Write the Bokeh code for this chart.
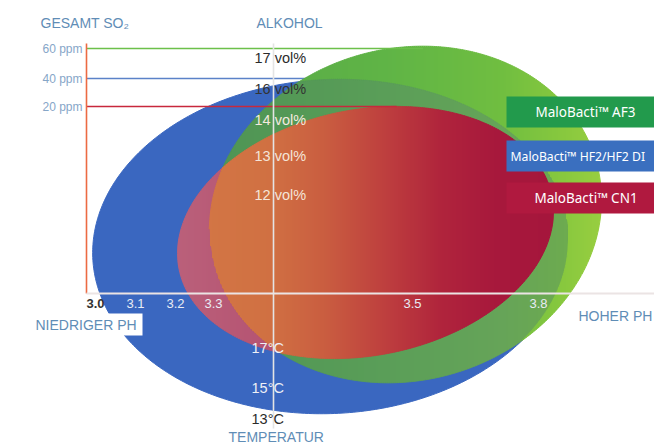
import numpy as np
from bokeh.plotting import figure
from bokeh.models import Range1d, ColumnDataSource
from bokeh.core.properties import value
from bokeh.embed import file_html
from bokeh.resources import INLINE

# ---------------- data ----------------
strains = ["MaloBacti\u2122 AF3", "MaloBacti\u2122 HF2/HF2 DI", "MaloBacti\u2122 CN1"]
strain_so2 = ["60 ppm", "40 ppm", "20 ppm"]
so2_ticks = ["60 ppm", "40 ppm", "20 ppm"]
alcohol_ticks = ["17 vol%", "16 vol%", "14 vol%", "13 vol%", "12 vol%"]
temp_ticks = ["17\u00b0C", "15\u00b0C", "13\u00b0C"]
ph_ticks = ["3.0", "3.1", "3.2", "3.3", "3.5", "3.8"]

# tolerance zones in schematic chart units (AF3, HF2, CN1)
zone_cx = [405, 330, 365]
zone_cy = [214, 246, 232]
zone_rx = [198, 238, 190]
zone_ry = [166, 167, 123]
zone_tilt = [15, 3, 11]

# ---------------- layout (schematic positions) ----------------
so2_pos = [48, 78, 106]
alc_pos = [57, 88, 119, 155, 194]
temp_pos = [347, 387, 418]
ph_pos = [95, 135, 175, 213, 412, 538]
SO2_X, ALC_X, PH_Y = 86, 273, 293
W, H = 654, 445

HEAD = "#5f8db6"
FONT = value("Liberation Sans")

p = figure(width=W, height=H, x_range=Range1d(0, W), y_range=Range1d(H, 0),
           output_backend="svg", toolbar_location=None, min_border=0,
           x_axis_location=None, y_axis_location=None)
p.grid.visible = False
p.outline_line_color = None
p.background_fill_color = "white"
p.border_fill_color = "white"


def ell_funcs(i):
    cx, cy, a, b = zone_cx[i], zone_cy[i], zone_rx[i], zone_ry[i]
    th = np.radians(zone_tilt[i])
    c, s = np.cos(th), np.sin(th)
    A = s * s / a ** 2 + c * c / b ** 2
    k = 2 * c * s * (1 / b ** 2 - 1 / a ** 2)
    Cq = c * c / a ** 2 + s * s / b ** 2
    Wd = np.sqrt(a * a * c * c + b * b * s * s)

    def yr(x):
        dx = np.asarray(x, dtype=float) - cx
        B = k * dx
        C = Cq * dx * dx - 1
        r = np.sqrt(np.clip(B * B - 4 * A * C, 0, None))
        return cy + (-B - r) / (2 * A), cy + (-B + r) / (2 * A)

    return yr, cx - Wd, cx + Wd


def outline(i, n=400):
    th = np.radians(zone_tilt[i])
    t = np.linspace(0, 2 * np.pi, n)
    x = zone_cx[i] + zone_rx[i] * np.cos(t) * np.cos(th) + zone_ry[i] * np.sin(t) * np.sin(th)
    y = zone_cy[i] - zone_rx[i] * np.cos(t) * np.sin(th) + zone_ry[i] * np.sin(t) * np.cos(th)
    return x, y


def interp(t, stops):
    ts = [s[0] for s in stops]
    return tuple(float(np.interp(t, ts, [s[1][ch] for s in stops])) for ch in range(3))


def hexc(rgb):
    return "#%02x%02x%02x" % tuple(int(round(min(255, max(0, v)))) for v in rgb)


F = [ell_funcs(i) for i in range(3)]


def layer_pieces(li, below, colorfn, step=2):
    yr, xl, xr = F[li]
    inner = np.arange(np.ceil(xl / step) * step, xr, step)
    inner = inner[(inner > xl + 0.3) & (inner < xr - 0.3)]
    edges = np.concatenate([[xl], inner, [xr]])
    xs_all, ys_all, cols = [], [], []
    for x0, x1 in zip(edges[:-1], edges[1:]):
        xx = np.linspace(x0, x1, 4)
        xm = (x0 + x1) / 2
        lo, hi = yr(xx)
        lom, him = yr(xm)
        bps = []
        for j in below:
            yrj, xlj, xrj = F[j]
            if xm <= xlj or xm >= xrj:
                continue
            ljm, hjm = yrj(xm)
            lj, hj = yrj(np.clip(xx, xlj, xrj))
            for cm, cc in ((ljm, lj), (hjm, hj)):
                if lom < cm < him:
                    bps.append((float(cm), cc))
        bps.sort(key=lambda q: q[0])
        curves = [(float(lom), lo)] + bps + [(float(him), hi)]
        t = (xm - xl) / (xr - xl)
        for k in range(len(curves) - 1):
            ya_m, ya = curves[k]
            yb_m, yb = curves[k + 1]
            ymid = (ya_m + yb_m) / 2
            cover = set()
            for j in below:
                yrj, xlj, xrj = F[j]
                if xlj < xm < xrj:
                    l2, h2 = yrj(xm)
                    if l2 < ymid < h2:
                        cover.add(j)
            col = hexc(colorfn(t, cover))
            ya_c = np.clip(ya, lo, hi)
            yb_c = np.clip(yb, lo, hi)
            xs_all.append(list(np.concatenate([xx, xx[::-1]])))
            ys_all.append(list(np.concatenate([ya_c, yb_c[::-1]])))
            cols.append(col)
    return ColumnDataSource(dict(xs=xs_all, ys=ys_all, c=cols))


BLUE = (58, 103, 192)
green_white = [(0.0, (88, 168, 72)), (0.45, (95, 180, 70)), (0.75, (112, 190, 64)),
               (0.9, (135, 200, 62)), (1.0, (152, 206, 64))]
green_blue = [(0.0, (78, 148, 84)), (0.45, (90, 158, 88)), (0.75, (102, 164, 88)),
              (0.9, (108, 170, 80)), (1.0, (118, 178, 74))]
red_green = [(0.0, (212, 120, 70)), (0.25, (208, 112, 66)), (0.4, (201, 92, 64)),
             (0.55, (190, 64, 62)), (0.7, (176, 36, 60)), (0.85, (167, 24, 60)),
             (1.0, (165, 22, 60))]
red_blue = [(0.0, (186, 96, 122)), (0.3, (180, 80, 112)), (0.6, (172, 50, 90)),
            (1.0, (165, 25, 65))]


def green_col(t, cover):
    return interp(t, green_blue if 1 in cover else green_white)


def red_col(t, cover):
    return interp(t, red_green if 0 in cover else red_blue)


line_cols = ["#6cc04a", "#5b82c8", "#c8283c"]


def so2_line(i):
    ox, oy = outline(i, 2000)
    k = int(np.argmin(oy))
    yy = so2_pos[so2_ticks.index(strain_so2[i])]
    p.segment(x0=[SO2_X], y0=[yy], x1=[ox[k]], y1=[yy], line_color=line_cols[i], line_width=1.6)


# blue zone (HF2)
bx, by = outline(1)
p.patch(list(bx), list(by), fill_color=hexc(BLUE), line_color=hexc(BLUE), line_width=1)
so2_line(1)

# green zone (AF3) over blue
gsrc = layer_pieces(0, [1], green_col)
p.patches("xs", "ys", source=gsrc, fill_color="c", line_color="c", line_width=1)

# red zone (CN1) over both
rsrc = layer_pieces(2, [1, 0], red_col)
p.patches("xs", "ys", source=rsrc, fill_color="c", line_color="c", line_width=1)

so2_line(0)
so2_line(2)

# axes
p.segment(x0=[SO2_X], y0=[43], x1=[SO2_X], y1=[PH_Y], line_color="#ec6a43", line_width=1.6)
p.segment(x0=[ALC_X], y0=[43], x1=[ALC_X], y1=[428], line_color="#e4e4e4", line_width=1.6)
p.segment(x0=[SO2_X], y0=[PH_Y], x1=[W], y1=[PH_Y], line_color="#ebe4e4", line_width=2)

# white label plate behind low-pH caption
p.quad(left=[28], right=[142], top=[313], bottom=[335], fill_color="white", line_color=None)

# headings
p.text(x=[40, 256], y=[22, 22], text=["GESAMT SO\u2082", "ALKOHOL"], text_color=HEAD,
       text_font=FONT, text_font_size="14px", text_baseline="middle")
p.text(x=[35], y=[324], text=["NIEDRIGER  PH"], text_color=HEAD, text_font=FONT,
       text_font_size="14px", text_baseline="middle")
p.text(x=[578], y=[315], text=["HOHER PH"], text_color=HEAD, text_font=FONT,
       text_font_size="14px", text_baseline="middle")
p.text(x=[228], y=[436], text=["TEMPERATUR"], text_color=HEAD, text_font=FONT,
       text_font_size="14px", text_baseline="middle")

# SO2 tick labels
p.text(x=[82] * 3, y=so2_pos, text=so2_ticks, text_color="#86a6c8", text_font=FONT,
       text_font_size="12px", text_baseline="middle", text_align="right")

# alcohol labels
alc_cols = ["#2b2b2b", "#333333", "#f4e9df", "#f4e4d8", "#f4e4d8"]
p.text(x=[254] * 5, y=alc_pos, text=alcohol_ticks, text_color=alc_cols, text_font=FONT,
       text_font_size="14.5px", text_baseline="middle")

# temperature labels
temp_cols = ["#eef0f6", "#eef0f6", "#2b2b2b"]
p.text(x=[251] * 3, y=temp_pos, text=temp_ticks, text_color=temp_cols, text_font=FONT,
       text_font_size="14.5px", text_baseline="middle")

# pH labels
ph_cols = ["#333333"] + ["#e8ecf4"] * 5
ph_weight = ["bold"] + ["normal"] * 5
src_ph = ColumnDataSource(dict(x=ph_pos, y=[303] * 6, t=ph_ticks, c=ph_cols, w=ph_weight))
p.text(x="x", y="y", text="t", text_color="c", text_font_style="w", source=src_ph,
       text_font=FONT, text_font_size="13px", text_baseline="middle", text_align="center")

# legend boxes
box_cols = ["#229a4c", "#3a6fbf", "#b0193f"]
box_top = [96, 140, 182]
box_h = 31
p.quad(left=[506] * 3, right=[W + 10] * 3, top=box_top, bottom=[t + box_h for t in box_top],
       fill_color=box_cols, line_color=None)
p.text(x=[535, 510, 534], y=[t + box_h / 2 for t in box_top], text=strains,
       text_color="white", text_font=value("Noto Sans"),
       text_font_size=["13.5px", "12.2px", "13.5px"], text_baseline="middle")

open("out.html", "w").write(file_html(p, INLINE))
